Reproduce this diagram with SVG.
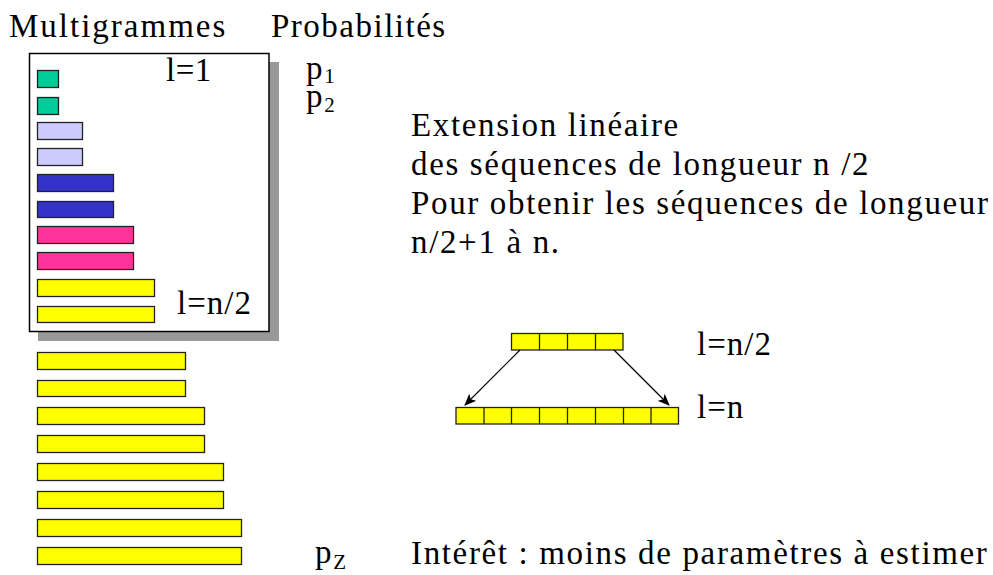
<svg xmlns="http://www.w3.org/2000/svg" width="993" height="575" viewBox="0 0 993 575">
<style>
  text { font-family: "Liberation Serif", "Times New Roman", Times, serif; fill: #000; }
  .t { font-size: 33px; letter-spacing: 1.65px; }
  .lbl { font-size: 33px; letter-spacing: 1px; }
  .sub { font-size: 21px; letter-spacing: 0; }
  .bar { stroke: #222; stroke-width: 1.3; }
  .g { fill: #00CC99; }
  .lv { fill: #CCCCFF; }
  .b { fill: #3333CC; }
  .pk { fill: #FF3399; }
  .y { fill: #FFFF00; }
  .cell { fill: #FFFF00; stroke: #222; stroke-width: 1.3; }
  .div { stroke: #222; stroke-width: 1.3; }
  .conn { stroke: #000; stroke-width: 1.2; fill: none; }
</style>
<defs>
  <marker id="arr" viewBox="0 0 12 10" refX="11" refY="5" markerWidth="12" markerHeight="10" markerUnits="userSpaceOnUse" orient="auto">
    <path d="M0,0 L12,5 L0,10 L3,5 Z" fill="#000"/>
  </marker>
</defs>

<g id="headers">
  <text class="t" x="9" y="37" style="letter-spacing:2px">Multigrammes</text>
  <text class="t" x="271" y="37" style="letter-spacing:1.5px">Probabilités</text>
</g>

<g id="box">
  <rect x="38" y="62" width="241" height="279" fill="#999999"/>
  <rect x="29.5" y="53.5" width="239.5" height="278" fill="#FFFFFF" stroke="#000" stroke-width="1.5"/>
  <text class="lbl" x="166" y="81" style="letter-spacing:0.5px">l=1</text>
  <text class="lbl" x="177" y="314">l=n/2</text>
</g>

<g id="bars">
  <rect class="bar g" x="37.5" y="70.5" width="21" height="17"/>
  <rect class="bar g" x="37.5" y="97.5" width="21" height="17"/>
  <rect class="bar lv" x="37.5" y="122.5" width="45" height="17"/>
  <rect class="bar lv" x="37.5" y="148.5" width="45" height="17"/>
  <rect class="bar b" x="37.5" y="174.5" width="76" height="17"/>
  <rect class="bar b" x="37.5" y="201.5" width="76" height="16"/>
  <rect class="bar pk" x="37.5" y="226.5" width="96" height="17"/>
  <rect class="bar pk" x="37.5" y="252.5" width="96" height="17"/>
  <rect class="bar y" x="37.5" y="279.5" width="117" height="17"/>
  <rect class="bar y" x="37.5" y="306.5" width="117" height="16"/>
  <rect class="bar y" x="37.5" y="352.5" width="148" height="17"/>
  <rect class="bar y" x="37.5" y="380.5" width="148" height="16"/>
  <rect class="bar y" x="37.5" y="407.5" width="167" height="17"/>
  <rect class="bar y" x="37.5" y="435.5" width="167" height="17"/>
  <rect class="bar y" x="37.5" y="463.5" width="186" height="17"/>
  <rect class="bar y" x="37.5" y="491.5" width="186" height="17"/>
  <rect class="bar y" x="37.5" y="519.5" width="204" height="17"/>
  <rect class="bar y" x="37.5" y="547.5" width="204" height="17"/>
</g>

<g id="probs">
  <text class="t" x="306" y="79">p<tspan class="sub" dy="4">1</tspan></text>
  <text class="t" x="306" y="107">p<tspan class="sub" dy="5">2</tspan></text>
  <text class="t" x="315" y="563">p<tspan class="sub" dy="6">Z</tspan></text>
</g>

<g id="explanation">
  <text class="t" x="411" y="136">Extension linéaire</text>
  <text class="t" x="411" y="175">des séquences de longueur n /2</text>
  <text class="t" x="411" y="214">Pour obtenir les séquences de longueur</text>
  <text class="t" x="411" y="253">n/2+1 à n.</text>
</g>

<g id="seq-half">
  <rect class="cell" x="511.5" y="333.5" width="111.5" height="16.5"/>
  <line class="div" x1="539.5" y1="333.5" x2="539.5" y2="350"/>
  <line class="div" x1="567.5" y1="333.5" x2="567.5" y2="350"/>
  <line class="div" x1="595.5" y1="333.5" x2="595.5" y2="350"/>
  <text class="lbl" x="697" y="355">l=n/2</text>
</g>

<g id="seq-full">
  <rect class="cell" x="456" y="407.5" width="222.5" height="16.5"/>
  <line class="div" x1="484" y1="407.5" x2="484" y2="424"/>
  <line class="div" x1="511.5" y1="407.5" x2="511.5" y2="424"/>
  <line class="div" x1="539.5" y1="407.5" x2="539.5" y2="424"/>
  <line class="div" x1="567.5" y1="407.5" x2="567.5" y2="424"/>
  <line class="div" x1="595.5" y1="407.5" x2="595.5" y2="424"/>
  <line class="div" x1="623.5" y1="407.5" x2="623.5" y2="424"/>
  <line class="div" x1="651" y1="407.5" x2="651" y2="424"/>
  <text class="lbl" x="697" y="418">l=n</text>
</g>

<g id="connectors">
  <line class="conn" x1="520" y1="350" x2="465" y2="405" marker-end="url(#arr)"/>
  <line class="conn" x1="614" y1="350" x2="669" y2="405" marker-end="url(#arr)"/>
</g>

<g id="interet">
  <text class="t" x="411" y="564">Intérêt : moins de paramètres à estimer</text>
</g>
</svg>
